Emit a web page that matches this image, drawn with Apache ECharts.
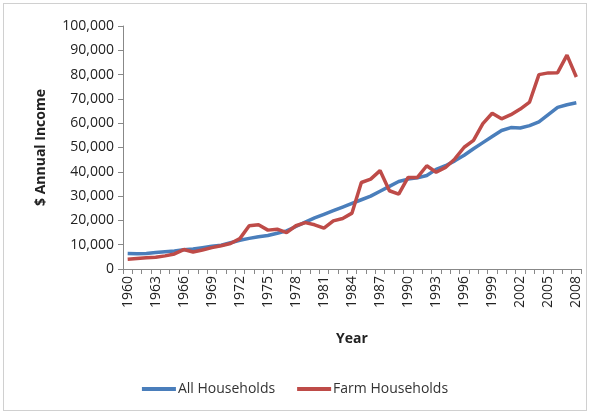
<!DOCTYPE html>
<html>
<head>
<meta charset="utf-8">
<script src="https://cdn.jsdelivr.net/npm/echarts@6/dist/echarts.min.js"></script>
<style>
    html, body { margin: 0; padding: 0; background: #ffffff; }
    #main { position: absolute; left: 3px; top: 3px; width: 584px; height: 408px; border: 1px solid #d0d0d0; box-sizing: border-box; }
</style>
</head>
<body>
<div id="main"></div>
<script>
    // years 1960 - 2008
    var years = [];
    for (var y = 1960; y <= 2008; y++) years.push(String(y));

    var allHouseholds = [
        6400, 6300, 6400, 6800, 7100, 7400, 7900, 8200, 8800, 9400,
        9800, 10800, 11800, 12600, 13300, 13800, 14700, 15700, 17500, 19300,
        21000, 22500, 24000, 25500, 27000, 28500, 30000, 32000, 34000, 36000,
        37000, 37500, 38500, 41000, 42500, 44500, 46800, 49500, 52000, 54500,
        57000, 58200, 58000, 59000, 60500, 63500, 66500, 67600, 68400
    ];
    var farmHouseholds = [
        4000, 4300, 4600, 4800, 5400, 6200, 8000, 7000, 7800, 8800,
        9600, 10500, 12500, 17800, 18200, 16000, 16400, 15000, 17800, 19100,
        18200, 16800, 19800, 20800, 23000, 35600, 37000, 40500, 32200, 30800,
        37700, 37700, 42500, 39800, 41800, 45300, 50100, 52900, 59800, 64100,
        61800, 63500, 65800, 68700, 80000, 80700, 80800, 88000, 79000
    ];

    var font = 'Open Sans';
    var myChart = echarts.init(document.getElementById('main'));
    myChart.setOption({
        animation: false,
        backgroundColor: '#ffffff',
        grid: { left: 119, right: 5, top: 22, bottom: 141 },
        legend: {
            bottom: 9,
            left: 'center',
            itemWidth: 34,
            itemHeight: 4,
            itemGap: 22,
            icon: 'rect',
            textStyle: { fontFamily: font, fontSize: 14, color: '#333', padding: [0, 0, 0, -3] },
            data: ['All Households', 'Farm Households']
        },
        xAxis: {
            type: 'category',
            data: years,
            boundaryGap: true,
            name: 'Year',
            nameLocation: 'middle',
            nameGap: 63,
            nameTextStyle: { fontFamily: font, fontSize: 14, fontWeight: 'bold', color: '#222' },
            axisLine: { lineStyle: { color: '#888' } },
            axisTick: { show: true, interval: 0, length: 5, lineStyle: { color: '#888' } },
            axisLabel: { interval: 2, rotate: 90, fontFamily: font, fontSize: 14, color: '#222', margin: 7 }
        },
        yAxis: {
            type: 'value',
            min: 0,
            max: 100000,
            interval: 10000,
            name: '$ Annual Income',
            nameLocation: 'middle',
            nameGap: 75,
            nameTextStyle: { fontFamily: font, fontSize: 14, fontWeight: 'bold', color: '#222' },
            axisLine: { show: true, lineStyle: { color: '#888' } },
            axisTick: { show: true, length: 5, lineStyle: { color: '#888' } },
            splitLine: { show: false },
            axisLabel: {
                fontFamily: font, fontSize: 14, color: '#222', margin: 9,
                formatter: function (v) { return v.toLocaleString('en-US'); }
            }
        },
        series: [
            {
                name: 'All Households',
                type: 'line',
                data: allHouseholds,
                showSymbol: false,
                color: '#4a7ebb',
                lineStyle: { width: 3.5 }
            },
            {
                name: 'Farm Households',
                type: 'line',
                data: farmHouseholds,
                showSymbol: false,
                color: '#be4b48',
                lineStyle: { width: 3.5 }
            }
        ]
    });
</script>
</body>
</html>
